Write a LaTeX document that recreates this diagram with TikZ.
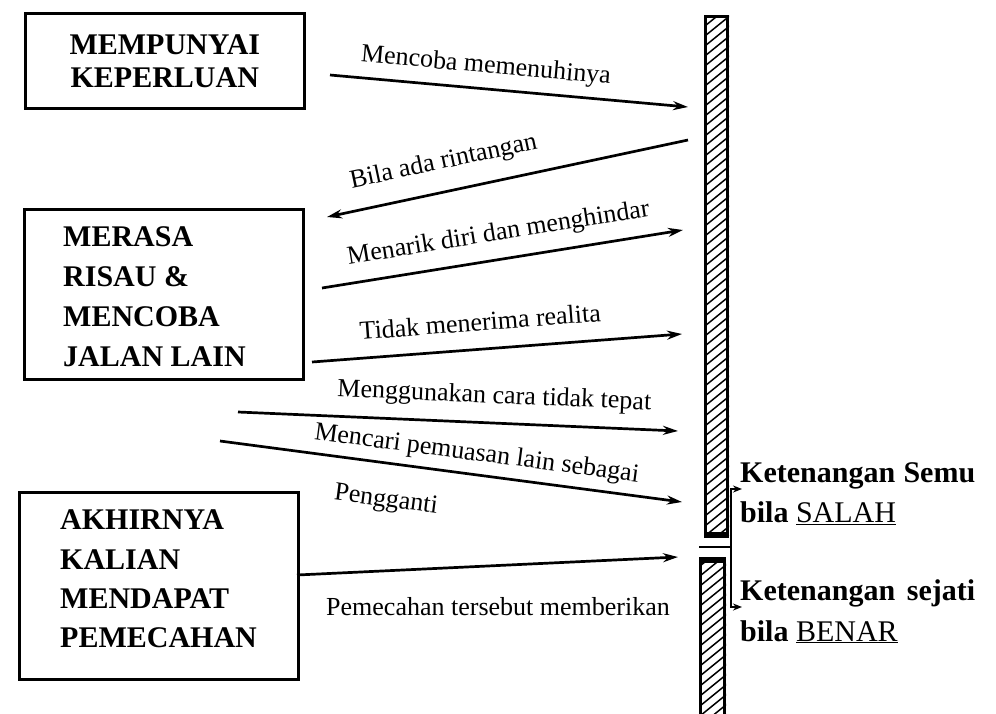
\documentclass[tikz,border=0pt]{standalone}
\usepackage{fontspec}
\setmainfont{Liberation Serif}
\usetikzlibrary{arrows.meta}
\begin{document}
\begin{tikzpicture}[x=1pt,y=-1pt,
  box/.style={draw, line width=2.6pt, inner sep=0pt},
  boxtext/.style={font=\fontsize{30}{40}\selectfont\bfseries, align=left, inner sep=0pt},
  arr/.style={line width=2.7pt, -{Stealth[length=15pt,width=9pt]}},
  larr/.style={line width=2.7pt, {Stealth[length=15pt,width=9pt]}-},
  lbl/.style={font=\fontsize{26}{30}\selectfont, inner sep=3pt, sloped},
  wallbox/.style={draw, line width=3pt, inner sep=0pt},
  hatch/.style={line width=1.5pt},
  bracket/.style={line width=2.2pt},
  smallarr/.style={line width=2.2pt, -{Stealth[length=9pt,width=7pt]}},
  side/.style={font=\fontsize{30}{40}\selectfont\bfseries, inner sep=0pt, anchor=base west}]
\clip (0,0) rectangle (996,713);
\fill[white] (0,0) rectangle (996,713);

% boxes
\node[box, minimum width=279pt, minimum height=95pt, anchor=north west,
      font=\fontsize{30}{33}\selectfont\bfseries, align=center] (b1) at (24,12) {MEMPUNYAI\\KEPERLUAN};
\node[box, minimum width=279pt, minimum height=170pt, anchor=north west] (b2) at (23,208) {};
\node[boxtext, anchor=west] (t2) at (63,297) {MERASA\\RISAU \&\\MENCOBA\\JALAN LAIN};
\node[box, minimum width=279pt, minimum height=187pt, anchor=north west] (b3) at (18,491) {};
\node[boxtext, anchor=west, font=\fontsize{30}{39.3}\selectfont\bfseries] (t3) at (60,579) {AKHIRNYA\\KALIAN\\MENDAPAT\\PEMECAHAN};

% wall
\node[wallbox, minimum width=22pt, minimum height=517pt, anchor=north west] (wA) at (704,15) {};
\node[wallbox, minimum width=24pt, minimum height=170pt, anchor=north west] (wB) at (699,560) {};
\begin{scope}
  \clip (wA.north west) rectangle (wA.south east);
  \foreach \y in {0,10,...,570} \draw[hatch] (700,\y) -- ++(32,-26);
\end{scope}
\begin{scope}
  \clip (wB.north west) rectangle (wB.south east);
  \foreach \y in {550,560,...,760} \draw[hatch] (695,\y) -- ++(32,-26);
\end{scope}
\draw[line width=6pt] (wA.south west) -- (wA.south east);
\draw[line width=6pt] (wB.north west) -- (wB.north east);

% arrow end points
\coordinate (s1) at (330,75);  \coordinate (e1) at (688,107);
\coordinate (s2) at (327,217); \coordinate (e2) at (688,140);
\coordinate (s3) at (322,288); \coordinate (e3) at (683,230);
\coordinate (s4) at (312,362); \coordinate (e4) at (682,334);
\coordinate (s5) at (238,412); \coordinate (e5) at (678,431);
\coordinate (s6) at (220,441); \coordinate (e6) at (682,502);
\coordinate (s7) at (297,575); \coordinate (e7) at (678,557);

\draw[arr] (s1) -- node[lbl, above=6pt, pos=0.43] (l1) {Mencoba memenuhinya} (e1);
\draw[larr] (s2) -- node[lbl, above=13pt, pos=0.34] (l2) {Bila ada rintangan} (e2);
\draw[arr] (s3) -- node[lbl, above=9pt, pos=0.5] (l3) {Menarik diri dan menghindar} (e3);
\draw[arr] (s4) -- node[lbl, above=14pt, pos=0.46] (l4) {Tidak menerima realita} (e4);
\draw[arr] (s5) -- node[lbl, above=10pt, pos=0.58] (l5) {Menggunakan cara tidak tepat} (e5);
\draw[arr] (s6) -- node[lbl, above=4pt, pos=0.55] (l6) {Mencari pemuasan lain sebagai}
                  node[lbl, below=22pt, pos=0.37] (l6b) {Pengganti} (e6);
\draw[arr] (s7) -- (e7);
\node[font=\fontsize{26}{30}\selectfont, inner sep=0pt] (l7) at (498,607) {Pemecahan tersebut memberikan};

% bracket
\coordinate (k1) at (699,547); \coordinate (k2) at (731,547);
\coordinate (tA) at (742,489); \coordinate (tB) at (742,607);
\draw[bracket] (k1) -- (k2);
\draw[smallarr] (k2) |- (tA);
\draw[smallarr] (k2) |- (tB);

% side texts
\node[side] (r1) at (740,482) {\makebox[235pt][s]{Ketenangan\hfill Semu}};
\node[side] (r2) at (740,522) {bila \mdseries\underline{SALAH}};
\node[side] (r3) at (740,600) {\makebox[235pt][s]{Ketenangan\hfill sejati}};
\node[side] (r4) at (740,641) {bila \mdseries\underline{BENAR}};
\end{tikzpicture}
\end{document}
